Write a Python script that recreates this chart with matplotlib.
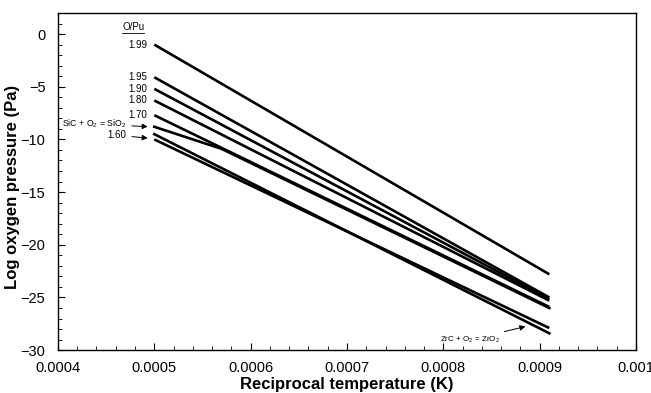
import numpy as np
import matplotlib.pyplot as plt
from matplotlib.ticker import MultipleLocator
from matplotlib.lines import Line2D

plt.rcParams['font.family'] = ['Liberation Sans', 'DejaVu Sans']
plt.rcParams['mathtext.default'] = 'regular'

# O/Pu lines: value at start and end of the temperature range
x_start = 0.0005
x_end = 0.00091
opu_labels = ['1.99', '1.95', '1.90', '1.80', '1.70', '1.60']
opu_start = [-1.0, -4.1, -5.2, -6.3, -7.7, -10.0]
opu_end = [-22.8, -25.0, -25.15, -25.3, -25.9, -27.9]

# reaction lines
sic_x = [0.0005, 0.00057, 0.00091]
sic_y = [-8.8, -10.9, -26.0]
zrc_x = [0.0005, 0.00091]
zrc_y = [-9.5, -28.4]

fig = plt.figure(figsize=(6.51, 3.93), dpi=100)
ax = fig.add_axes([0.089, 0.109, 0.888, 0.858])

for y0, y1 in zip(opu_start, opu_end):
    ax.plot([x_start, x_end], [y0, y1], color='black', lw=1.9, solid_capstyle='butt')
ax.plot(sic_x, sic_y, color='black', lw=1.9)
ax.plot(zrc_x, zrc_y, color='black', lw=1.9)

# labels at line starts
for lab, y0 in zip(opu_labels[:5], opu_start[:5]):
    ax.text(0.000493, y0, lab, ha='right', va='center', fontsize=7)
head = ax.text(0.000478, 0.7, 'O/Pu', ha='center', va='center', fontsize=7)

ax.annotate(r'SiC + O$_2$ = SiO$_2$', xy=(0.000496, -8.8), xytext=(0.000471, -8.55),
            ha='right', va='center', fontsize=6.3,
            arrowprops=dict(arrowstyle='-|>', color='black', lw=0.7, mutation_scale=8))
ax.annotate('1.60', xy=(0.000496, -9.9), xytext=(0.000471, -9.6),
            ha='right', va='center', fontsize=7,
            arrowprops=dict(arrowstyle='-|>', color='black', lw=0.7, mutation_scale=8))
ax.annotate(r'ZrC + O$_2$ = ZrO$_2$', xy=(0.000888, -27.7), xytext=(0.000828, -29.0),
            ha='center', va='center', fontsize=5.8,
            arrowprops=dict(arrowstyle='-|>', color='black', lw=0.7, mutation_scale=8,
                            shrinkA=1))

ax.set_xlim(0.0004, 0.001)
ax.set_ylim(-30, 2)
ax.xaxis.set_major_locator(MultipleLocator(0.0001))
ax.xaxis.set_minor_locator(MultipleLocator(0.00002))
ax.yaxis.set_major_locator(MultipleLocator(5))
ax.yaxis.set_minor_locator(MultipleLocator(1))
ax.set_xticks([0.0004, 0.0005, 0.0006, 0.0007, 0.0008, 0.0009, 0.001])
ax.set_xticklabels(['0.0004', '0.0005', '0.0006', '0.0007', '0.0008', '0.0009', '0.001'])
ax.tick_params(which='both', direction='in', labelsize=10.5, top=False, right=False)
ax.tick_params(which='major', length=5)
ax.tick_params(which='minor', length=3)
ax.tick_params(axis='x', pad=8)
ax.tick_params(axis='y', pad=9)
ax.set_xlabel('Reciprocal temperature (K)', fontsize=12, fontweight='bold', labelpad=1)
ax.set_ylabel('Log oxygen pressure (Pa)', fontsize=12, fontweight='bold', va='center')
ax.yaxis.set_label_coords(-0.079, 0.485)
for s in ax.spines.values():
    s.set_linewidth(1.0)

# underline the O/Pu heading
fig.canvas.draw()
bb = head.get_window_extent(fig.canvas.get_renderer())
fig.add_artist(Line2D([bb.x0, bb.x1], [bb.y0 - 1, bb.y0 - 1], transform=None,
                      color='black', lw=0.6))

fig.savefig('out.png', dpi=100)
